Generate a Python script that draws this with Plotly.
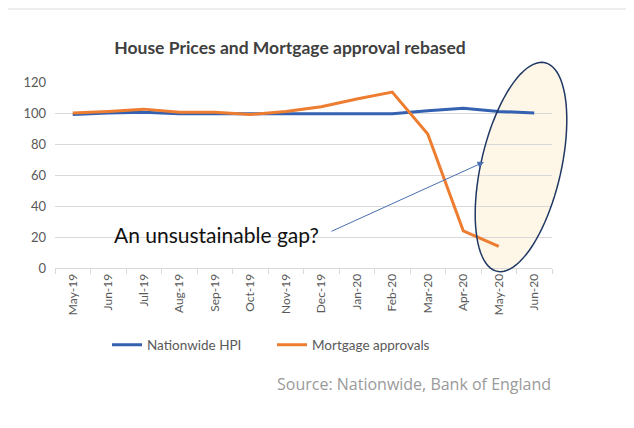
import numpy as np
import plotly.graph_objects as go

months = ["May-19", "Jun-19", "Jul-19", "Aug-19", "Sep-19", "Oct-19", "Nov-19",
          "Dec-19", "Jan-20", "Feb-20", "Mar-20", "Apr-20", "May-20", "Jun-20"]
hpi = [99, 100, 100.5, 99.5, 99.5, 99.5, 99.5, 99.5, 99.5, 99.5, 101.5, 103, 101, 100]
mortgage = [100, 101, 102.5, 100.5, 100.5, 99, 101, 104, 109, 113.5, 86.5, 24, 14]

OFF = 8  # page body margin
W, H = 634 - OFF, 428 - OFF
# plot area in screen pixels: x 55..552, y 82..268
L, R, T, B = 55 - OFF, 634 - 552, 82 - OFF, 428 - 268
PW, PH = W - L - R, H - T - B


def px2paper(px, py):
    return (px - OFF - L) / PW, (H - B - (py - OFF)) / PH


fig = go.Figure()
fig.add_trace(go.Scatter(x=months, y=hpi, mode="lines", name="Nationwide HPI",
                         line=dict(color="#3461B0", width=3)))
fig.add_trace(go.Scatter(x=months[:len(mortgage)], y=mortgage, mode="lines",
                         name="Mortgage approvals",
                         line=dict(color="#ED7D31", width=3)))

# highlighted ellipse (annotation shape, pixel space converted to paper)
cx, cy, a, b, ang = 521, 167, 107, 40, np.deg2rad(-77)
t = np.linspace(0, 2 * np.pi, 90)
ex = cx + a * np.cos(t) * np.cos(ang) - b * np.sin(t) * np.sin(ang)
ey = cy + a * np.cos(t) * np.sin(ang) + b * np.sin(t) * np.cos(ang)
pts = [px2paper(x, y) for x, y in zip(ex, ey)]
path = "M " + " L ".join(f"{x:.4f},{y:.4f}" for x, y in pts) + " Z"
fig.add_shape(type="path", path=path, xref="paper", yref="paper",
              fillcolor="#FEF6E6", line=dict(width=0), layer="between")
fig.add_shape(type="path", path=path, xref="paper", yref="paper",
              fillcolor="rgba(0,0,0,0)", line=dict(color="#1F3864", width=1.5),
              layer="above")

# thin top rule
fig.add_shape(type="line", xref="paper", yref="paper",
              x0=px2paper(0, 0)[0], x1=px2paper(634, 0)[0],
              y0=px2paper(0, 9)[1], y1=px2paper(0, 9)[1],
              line=dict(color="#E8E8E8", width=1.5))

tipx, tipy = px2paper(484, 162)
fig.add_annotation(x=tipx, y=tipy, xref="paper", yref="paper", text="",
                   showarrow=True, ax=330 - 484, ay=232 - 162, axref="pixel", ayref="pixel",
                   arrowhead=2, arrowsize=1.3, arrowwidth=1, arrowcolor="#4A6FB0")

tx, ty = px2paper(112, 234)
fig.add_annotation(x=tx, y=ty, xref="paper", yref="paper", text="An unsustainable gap?",
                   showarrow=False, xanchor="left", yanchor="middle",
                   font=dict(family="Lato, sans-serif", size=21, color="#111111"))

sx, sy = px2paper(553, 384)
fig.add_annotation(x=sx, y=sy, xref="paper", yref="paper",
                   text="Source: Nationwide, Bank of England",
                   showarrow=False, xanchor="right", yanchor="middle",
                   font=dict(family="Open Sans, sans-serif", size=16, color="#9A9A9A"))

fig.update_layout(
    width=W, height=H,
    margin=dict(l=L, r=R, t=T, b=B),
    paper_bgcolor="white", plot_bgcolor="white",
    title=dict(text="<b>House Prices and Mortgage approval rebased</b>",
               x=px2paper(290, 0)[0], xref="paper", xanchor="center",
               y=1 - (48 - OFF) / H, yanchor="middle",
               font=dict(family="Lato, sans-serif", size=17.5, color="#404040")),
    showlegend=True,
    legend=dict(orientation="h", x=px2paper(107, 0)[0], xanchor="left",
                y=px2paper(0, 345)[1], yanchor="middle",
                font=dict(family="Lato, sans-serif", size=13.5, color="#595959"),
                itemwidth=30, tracegroupgap=0,
                entrywidth=120, entrywidthmode="pixels"),
    font=dict(family="Lato, sans-serif", color="#595959"),
)
fig.update_xaxes(type="category", tickangle=-90, showgrid=False,
                 range=[-0.5, len(months) - 0.5],
                 showline=True, linecolor="#D9D9D9", linewidth=1,
                 ticks="outside", tickson="boundaries", ticklen=5, tickcolor="#D9D9D9",
                 tickfont=dict(family="Lato, sans-serif", size=12, color="#595959"))
fig.update_yaxes(range=[0, 120], dtick=20, showgrid=True, gridcolor="#D9D9D9",
                 gridwidth=1, zeroline=False, showline=False, ticklabelstandoff=8,
                 tickfont=dict(family="Lato, sans-serif", size=13, color="#595959"))

fig.write_html("out.html")
